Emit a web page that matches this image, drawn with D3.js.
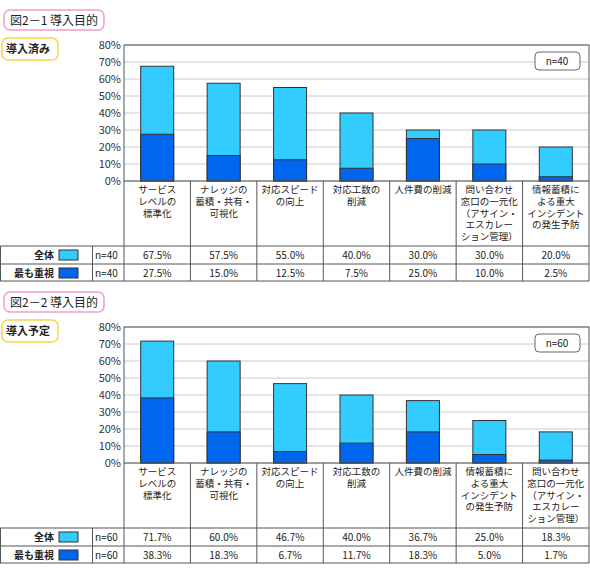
<!DOCTYPE html><html><head><meta charset="utf-8">
<script src="https://cdn.jsdelivr.net/npm/d3@7"></script>
<style>body{margin:0;background:#fff}text{font-family:"Noto Sans CJK JP",sans-serif;font-size:10px;fill:#222}</style></head><body>
<svg id="c" width="590" height="571"></svg>
<script>
const cats1=[["サービス","レベルの","標準化"],["ナレッジの","蓄積・共有・","可視化"],["対応スピード","の向上"],["対応工数の","削減"],["人件費の削減"],["問い合わせ","窓口の一元化","（アサイン・","エスカレー","ション管理）"],["情報蓄積に","よる重大","インシデント","の発生予防"]];
const total1=[67.5,57.5,55.0,40.0,30.0,30.0,20.0];
const top1=[27.5,15.0,12.5,7.5,25.0,10.0,2.5];
const cats2=[["サービス","レベルの","標準化"],["ナレッジの","蓄積・共有・","可視化"],["対応スピード","の向上"],["対応工数の","削減"],["人件費の削減"],["情報蓄積に","よる重大","インシデント","の発生予防"],["問い合わせ","窓口の一元化","（アサイン・","エスカレー","ション管理）"]];
const total2=[71.7,60.0,46.7,40.0,36.7,25.0,18.3];
const top2=[38.3,18.3,6.7,11.7,18.3,5.0,1.7];
const yTicks=[0,10,20,30,40,50,60,70,80];
const LIGHT="#33ccff",DARK="#0066ee";
const svg=d3.select("#c");
function panel(oy,title,sub,n,cats,tot,top){
  const g=svg.append("g").attr("transform",`translate(0,${oy})`);
  g.append("rect").attr("x",4).attr("y",10).attr("width",100).attr("height",20).attr("rx",6).attr("fill","#fff").attr("stroke","#f29ccf").attr("stroke-width",1.5);
  g.append("text").attr("x",10).attr("y",25).style("font-size","12px").text(title);
  g.append("rect").attr("x",2).attr("y",38).attr("width",56).attr("height",22).attr("rx",6).attr("fill","#fff").attr("stroke","#f5d84a").attr("stroke-width",1.5);
  g.append("text").attr("x",6).attr("y",53).style("font-size","11px").style("font-weight","bold").text(sub);
  const x=d3.scaleBand().domain(d3.range(7)).range([124,589]);
  const y=d3.scaleLinear().domain([0,80]).range([181,45]);
  g.selectAll(".gl").data(yTicks).join("line").attr("x1",124).attr("x2",589).attr("y1",d=>y(d)).attr("y2",d=>y(d)).attr("stroke","#ccc");
  const ax=g.append("g").attr("transform","translate(124,0)").call(d3.axisLeft(y).tickValues(yTicks).tickSize(0).tickFormat(d=>d+"%"));
  ax.select(".domain").remove();ax.selectAll("text").attr("x",-3).style("font-size","11px").style("fill","#333");
  const bw=33;
  g.selectAll(".b1").data(tot).join("rect").attr("x",(d,i)=>x(i)+x.bandwidth()/2-bw/2).attr("width",bw).attr("y",d=>y(d)).attr("height",d=>y(0)-y(d)).attr("fill",LIGHT).attr("stroke","#333").attr("stroke-width",1);
  g.selectAll(".b2").data(top).join("rect").attr("x",(d,i)=>x(i)+x.bandwidth()/2-bw/2).attr("width",bw).attr("y",d=>y(d)).attr("height",d=>y(0)-y(d)).attr("fill",DARK).attr("stroke","#333").attr("stroke-width",1);
  g.append("rect").attr("x",124).attr("y",45).attr("width",465).attr("height",136).attr("fill","none").attr("stroke","#555");
  g.append("rect").attr("x",535).attr("y",52).attr("width",45).attr("height",18).attr("rx",4).attr("fill","#fff").attr("stroke","#666");
  g.append("text").attr("x",557).attr("y",65).attr("text-anchor","middle").text("n="+n);
  const L="#555";
  cats.forEach((c,i)=>{
    const cx=x(i)+x.bandwidth()/2;
    c.forEach((s,j)=>g.append("text").attr("x",cx).attr("y",193+j*11.8).attr("text-anchor","middle").style("font-size","9.5px").text(s));
    g.append("text").attr("x",cx).attr("y",259).attr("text-anchor","middle").text(tot[i].toFixed(1)+"%");
    g.append("text").attr("x",cx).attr("y",277).attr("text-anchor","middle").text(top[i].toFixed(1)+"%");
  });
  d3.range(8).forEach(i=>{const xx=i<7?x(i):589;g.append("line").attr("x1",xx).attr("x2",xx).attr("y1",181).attr("y2",281).attr("stroke",L);});
  [0,92].forEach(xx=>g.append("line").attr("x1",xx+0.5).attr("x2",xx+0.5).attr("y1",246).attr("y2",281).attr("stroke",L));
  [246,264,281].forEach(yy=>g.append("line").attr("x1",0).attr("x2",589).attr("y1",yy).attr("y2",yy).attr("stroke",L));
  [["全体",LIGHT,259],["最も重視",DARK,277]].forEach(([t,c,yy])=>{
    g.append("text").attr("x",54).attr("y",yy).attr("text-anchor","end").style("font-weight","bold").text(t);
    g.append("rect").attr("x",59).attr("y",yy-9).attr("width",19).attr("height",10).attr("fill",c).attr("stroke","#333");
    g.append("text").attr("x",95).attr("y",yy).text("n="+n);
  });
}
panel(0,"図2－1 導入目的","導入済み",40,cats1,total1,top1);
panel(282,"図2－2 導入目的","導入予定",60,cats2,total2,top2);
</script></body></html>
